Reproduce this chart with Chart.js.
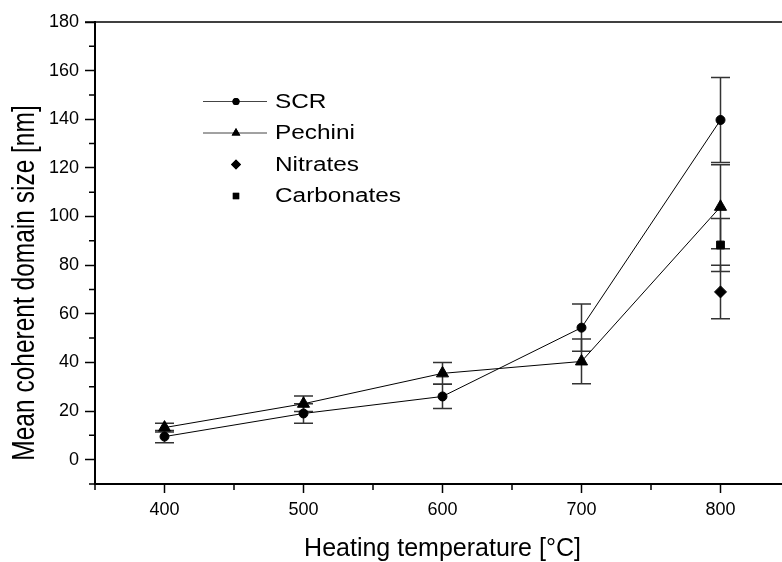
<!DOCTYPE html>
<html>
<head>
<meta charset="utf-8">
<script src="https://cdn.jsdelivr.net/npm/chart.js@4.4.1/dist/chart.umd.min.js"></script>
<style>
  html, body { margin: 0; padding: 0; background: #fff; overflow: hidden; }
  #wrap { width: 800px; height: 562px; }
</style>
</head>
<body>
<div id="wrap"><canvas id="myChart" width="800" height="562"></canvas></div>
<script>
// --- dados ---
const temperatures = [400, 500, 600, 700, 800];
const scrSize = [9.5, 19, 26, 54.3, 139.7];
const scrErr = [2.5, 4, 5, 9.7, 17.5];
const pechiniSize = [13.2, 23, 35.5, 40.4, 104];
const pechiniErr = [1.8, 3.2, 4.5, 9.2, 17.3];
const nitratesTemp = [800];
const nitratesSize = [69];
const nitratesErr = [11];
const carbonatesTemp = [800];
const carbonatesSize = [88.3];
const carbonatesErr = [10.9];

const xTicks = [400, 500, 600, 700, 800];
const xMinorTicks = [350, 450, 550, 650, 750, 850];
const yTicks = [0, 20, 40, 60, 80, 100, 120, 140, 160, 180];
const yMinorTicks = [-10, 10, 30, 50, 70, 90, 110, 130, 150, 170];

const yTitle = 'Mean coherent domain size [nm]';
const xTitle = 'Heating temperature [°C]';

const FONT = '"Liberation Sans", Arial, sans-serif';

function pts(xs, ys) {
  return xs.map((x, i) => ({ x: x, y: ys[i] }));
}

var datasets = [
  { label: 'SCR', data: pts(temperatures, scrSize), err: scrErr, showLine: true,
    borderColor: '#000', borderWidth: 1, backgroundColor: '#000',
    pointStyle: 'circle', pointRadius: 4.5, pointBorderWidth: 1, legendRadius: 3.5 },
  { label: 'Pechini', data: pts(temperatures, pechiniSize), err: pechiniErr, showLine: true,
    borderColor: '#000', borderWidth: 1, backgroundColor: '#000',
    pointStyle: 'triangle', pointRadius: 7, pointBorderWidth: 1, legendRadius: 5 },
  { label: 'Nitrates', data: pts(nitratesTemp, nitratesSize), err: nitratesErr, showLine: false,
    borderColor: '#000', backgroundColor: '#000',
    pointStyle: 'rectRot', pointRadius: 6, pointBorderWidth: 1, legendRadius: 5 },
  { label: 'Carbonates', data: pts(carbonatesTemp, carbonatesSize), err: carbonatesErr, showLine: false,
    borderColor: '#000', backgroundColor: '#000',
    pointStyle: 'rect', pointRadius: 5.5, pointBorderWidth: 1, legendRadius: 4.5 }
];

// barras de erro (desenhadas antes dos marcadores)
const errorBars = {
  id: 'errorBars',
  beforeDatasetsDraw(chart) {
    const ctx = chart.ctx, xs = chart.scales.x, ys = chart.scales.y;
    ctx.save();
    ctx.strokeStyle = '#333';
    ctx.lineWidth = 1.5;
    chart.data.datasets.forEach(ds => {
      ds.data.forEach((p, i) => {
        const e = ds.err[i];
        const px = xs.getPixelForValue(p.x);
        const top = ys.getPixelForValue(p.y + e);
        const bot = ys.getPixelForValue(p.y - e);
        ctx.beginPath();
        ctx.moveTo(px, top); ctx.lineTo(px, bot);
        ctx.moveTo(px - 9.5, top); ctx.lineTo(px + 9.5, top);
        ctx.moveTo(px - 9.5, bot); ctx.lineTo(px + 9.5, bot);
        ctx.stroke();
      });
    });
    ctx.restore();
  }
};

// moldura superior, ticks menores, título Y e legenda dentro do gráfico
const extras = {
  id: 'extras',
  afterDraw(chart) {
    const ctx = chart.ctx, a = chart.chartArea, xs = chart.scales.x, ys = chart.scales.y;
    ctx.save();
    ctx.strokeStyle = '#000';
    ctx.lineWidth = 1.5;
    ctx.beginPath();
    ctx.moveTo(a.left - 10, a.top); ctx.lineTo(a.right, a.top);
    ctx.stroke();

    ctx.beginPath();
    xMinorTicks.forEach(v => {
      const px = xs.getPixelForValue(v);
      ctx.moveTo(px, a.bottom); ctx.lineTo(px, a.bottom + 6);
    });
    yMinorTicks.forEach(v => {
      const py = ys.getPixelForValue(v);
      ctx.moveTo(a.left, py); ctx.lineTo(a.left - 6, py);
    });
    ctx.stroke();

    // título do eixo Y (texto mais "alto" como no original)
    ctx.save();
    ctx.fillStyle = '#000';
    ctx.font = '24.5px ' + FONT;
    ctx.textAlign = 'center';
    ctx.textBaseline = 'alphabetic';
    ctx.translate(33.5, 283);
    ctx.rotate(-Math.PI / 2);
    ctx.scale(1, 1.3);
    ctx.fillText(yTitle, 0, 0);
    ctx.restore();

    // legenda
    ctx.font = '19.5px ' + FONT;
    ctx.textBaseline = 'middle';
    ctx.fillStyle = '#000';
    chart.data.datasets.forEach((ds, i) => {
      const y = 101.5 + i * 31.5;
      if (ds.showLine) {
        ctx.strokeStyle = '#444';
        ctx.lineWidth = 1;
        ctx.beginPath();
        ctx.moveTo(203, y); ctx.lineTo(267, y);
        ctx.stroke();
      }
      Chart.helpers.drawPoint(ctx, { pointStyle: ds.pointStyle, radius: ds.legendRadius, rotation: 0, borderWidth: 0 }, 236, y);
      ctx.fill();
      ctx.save();
      ctx.translate(275, y + 1);
      ctx.scale(1.25, 1);
      ctx.fillText(ds.label, 0, 0);
      ctx.restore();
    });
    ctx.restore();
  }
};

var ctx = document.getElementById('myChart').getContext('2d');
new Chart(ctx, {
  type: 'scatter',
  data: { datasets: datasets },
  plugins: [errorBars, extras],
  options: {
    responsive: false,
    animation: false,
    layout: { padding: { top: 22, right: 10, left: 0, bottom: 0 } },
    plugins: { legend: { display: false }, tooltip: { enabled: false } },
    scales: {
      x: {
        type: 'linear', min: 350, max: 850,
        afterBuildTicks: s => { s.ticks = xTicks.map(v => ({ value: v })); },
        afterFit: s => { s.height = 78; },
        grid: { drawOnChartArea: false, drawTicks: true, tickLength: 9, tickWidth: 1.5, tickColor: '#000' },
        border: { color: '#000', width: 2 },
        ticks: { color: '#000', font: { family: FONT, size: 18 }, padding: 6, maxRotation: 0 },
        title: { display: true, text: xTitle, color: '#000',
                 font: { family: FONT, size: 25, lineHeight: 1 }, padding: { top: 8, bottom: 0 } }
      },
      y: {
        type: 'linear', min: -10, max: 180,
        afterBuildTicks: s => { s.ticks = yTicks.map(v => ({ value: v })); },
        afterFit: s => { s.width = 95; },
        grid: { drawOnChartArea: false, drawTicks: true, tickLength: 10, tickWidth: 1.5, tickColor: '#000' },
        border: { color: '#000', width: 2 },
        ticks: { color: '#000', font: { family: FONT, size: 18 }, padding: 6 },
        title: { display: false }
      }
    }
  }
});
</script>
</body>
</html>
